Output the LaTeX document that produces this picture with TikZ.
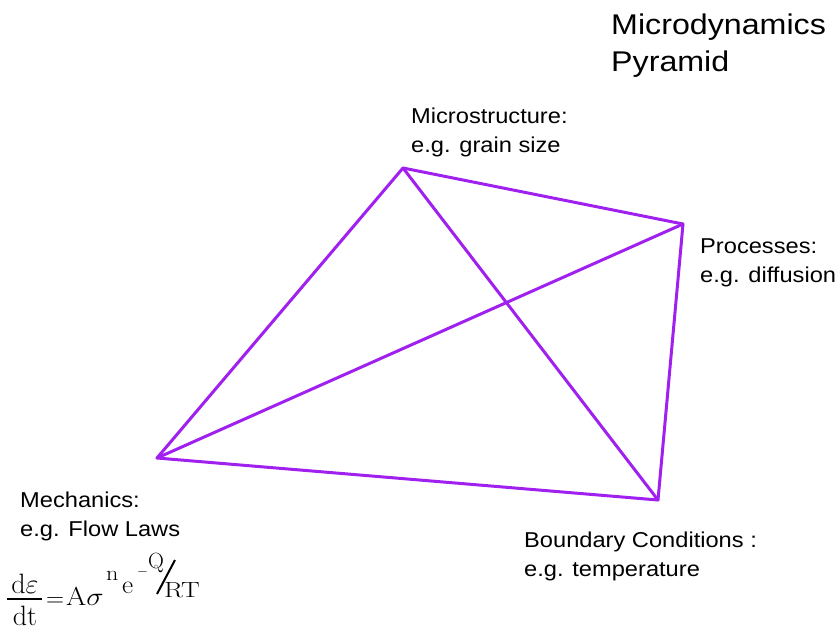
\RequirePackage{fix-cm}
\documentclass[tikz,border=0pt]{standalone}
\usepackage[no-math]{fontspec}
\setmainfont[FakeStretch=1.1]{Liberation Sans}
\newfontfamily\titlefont[FakeStretch=1.13]{Liberation Sans}
\definecolor{edgepurple}{RGB}{160,32,240}
\newcommand{\xs}[2]{\scalebox{#1}[1]{#2}}
\begin{document}
\begin{tikzpicture}[x=1pt,y=-1pt,
  edge/.style={draw=edgepurple,line width=3pt,line cap=round,line join=round},
  lbl/.style={anchor=base west,inner sep=0pt,font=\fontsize{21.5}{30}\selectfont},
  ttl/.style={anchor=base west,inner sep=0pt,font=\titlefont\fontsize{28.5}{37.5}\selectfont},
  eqpart/.style={inner sep=0pt,anchor=base west}]
\useasboundingbox (0,0) rectangle (840,630);
% vertices
\coordinate (top) at (403,168);
\coordinate (right) at (683,224);
\coordinate (left) at (157,458);
\coordinate (bottom) at (658,500);
\draw[edge] (top) -- (right);
\draw[edge] (top) -- (left);
\draw[edge] (top) -- (bottom);
\draw[edge] (right) -- (left);
\draw[edge] (right) -- (bottom);
\draw[edge] (left) -- (bottom);
% title
\node[ttl] (title1) at (611,34) {Microdynamics};
\node[ttl] (title2) at (611,71) {Pyramid};
% labels
\node[lbl] (ms1) at (411,123) {Microstructure:};
\node[lbl] (ms2) at (411,152) {e.g. grain size};
\node[lbl] (pr1) at (700,253) {Processes:};
\node[lbl] (pr2) at (700,282) {e.g. diffusion};
\node[lbl] (me1) at (20,507) {Mechanics:};
\node[lbl] (me2) at (20,536) {e.g. Flow Laws};
\node[lbl] (bc1) at (524,547) {Boundary Conditions :};
\node[lbl] (bc2) at (524,576) {e.g. temperature};
% equation
\node[inner sep=0pt,anchor=base,font=\fontsize{28}{30}\selectfont] (num) at (25,593) {$\mathrm{d}\varepsilon$};
\node[inner sep=0pt,anchor=base,font=\fontsize{28}{30}\selectfont] (den) at (25,625) {$\mathrm{dt}$};
\draw[line width=1.2pt] (7,599) -- (42,599);
\node[eqpart,font=\fontsize{25}{26}\selectfont] (eqeq) at (46,606) {$=$};
\node[eqpart,font=\fontsize{26}{26}\selectfont] (eqA) at (66,605) {\xs{1.12}{$\mathrm{A}\sigma$}};
\node[eqpart,font=\fontsize{21}{22}\selectfont] (eqn) at (106,580) {\xs{1.15}{$\mathrm{n}$}};
\node[eqpart,font=\fontsize{26}{26}\selectfont] (eqe) at (122,593) {\xs{1.05}{$\mathrm{e}$}};
\node[eqpart,font=\fontsize{14}{16}\selectfont] (eqminus) at (137,575) {$-$};
\node[eqpart,font=\fontsize{22}{22}\selectfont] (eqQ) at (148,568) {$\mathrm{Q}$};
\draw[line width=2pt] (157,594) -- (175,560);
\node[eqpart,font=\fontsize{22}{22}\selectfont] (eqRT) at (164,597) {\xs{1.27}{$\mathrm{RT}$}};
\end{tikzpicture}
\end{document}
